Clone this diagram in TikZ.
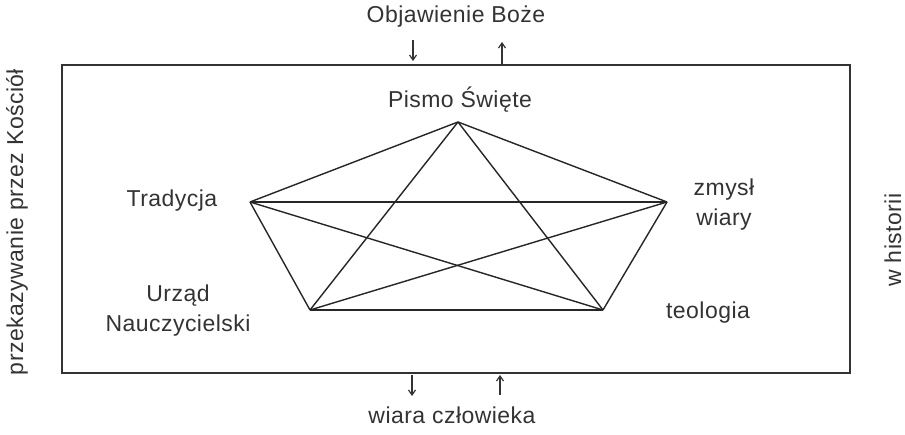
\documentclass[tikz,border=0pt]{standalone}
\usepackage{fontspec}
\setmainfont{Liberation Sans}[LetterSpace=2]
\usetikzlibrary{arrows.meta}
\begin{document}
\begin{tikzpicture}[x=1pt,y=-1pt,
  lbl/.style={font=\fontsize{23}{30}\selectfont, text=black!80, inner sep=0pt, align=center},
  edge/.style={line width=1.4pt, black!85},
  flow/.style={line width=1.2pt, black!80, -{Straight Barb[length=5pt,width=7pt]}},
  vtx/.style={coordinate}]
\useasboundingbox (0,0) rectangle (905,435);
\fill[white] (0,0) rectangle (905,435);

% frame
\draw[line width=1.6pt, black!80] (62,65) rectangle (850,373);

% corners of the pentagon
\node[vtx] (P) at (458,122) {};
\node[vtx] (T) at (250,202) {};
\node[vtx] (Z) at (667,202) {};
\node[vtx] (U) at (310,310) {};
\node[vtx] (E) at (603,310) {};

% every pair of corners is joined
\foreach \a/\b in {P/T,P/Z,P/U,P/E,T/Z,T/U,T/E,Z/U,Z/E,U/E}
  \draw[edge] (\a) -- (\b);

% labels of the corners
\node[lbl] (lp) at (460,100) {Pismo Święte};
\node[lbl] (lt) at (172,201) {Tradycja};
\node[lbl] (lz) at (724,205) {zmysł\\wiary};
\node[lbl] (lu) at (178,311) {Urząd\\Nauczycielski};
\node[lbl] (le) at (708,313) {teologia};

% outer texts
\node[lbl] (top) at (456,17) {Objawienie Boże};
\node[lbl] (bot) at (452,415) {wiara człowieka};
\node[lbl, rotate=90] (left) at (17,222) {przekazywanie przez Kościół};
\node[lbl, rotate=90] (right) at (893,240) {w historii};

% flows through the frame
\coordinate (a1) at (413,40);
\coordinate (a2) at (413,61);
\coordinate (b1) at (502,66);
\coordinate (b2) at (502,42);
\coordinate (c1) at (412,375);
\coordinate (c2) at (412,396);
\coordinate (d1) at (500,395);
\coordinate (d2) at (500,375);
\draw[flow] (a1) -- (a2);
\draw[flow] (b1) -- (b2);
\draw[flow] (c1) -- (c2);
\draw[flow] (d1) -- (d2);
\end{tikzpicture}
\end{document}
